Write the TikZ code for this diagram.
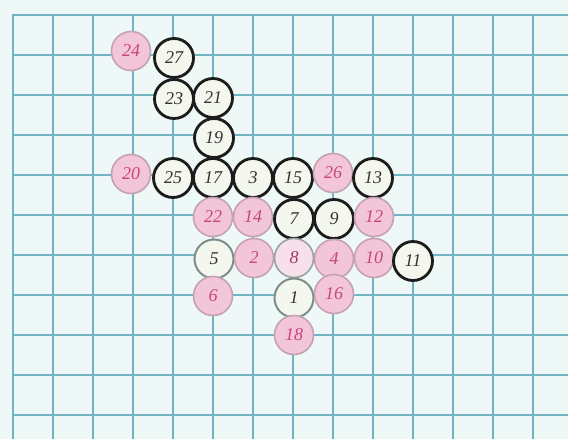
\documentclass[tikz,border=0pt]{standalone}
\usepackage{fontspec}
\setmainfont{Liberation Serif}
\definecolor{bgc}{HTML}{EDF8F7}
\definecolor{gridc}{HTML}{72B4C4}
\definecolor{pinkfill}{HTML}{F2C6D8}
\definecolor{pinkdraw}{HTML}{C4A2B2}
\definecolor{pinktext}{HTML}{C8447C}
\definecolor{stonefill}{HTML}{F3F7EE}
\definecolor{stonedraw}{HTML}{1C1C1C}
\definecolor{stonetext}{HTML}{333333}
\definecolor{fadedraw}{HTML}{7E8C8A}
\begin{document}
\begin{tikzpicture}[x=1pt,y=-1pt,
  gridline/.style={draw=gridc,line width=1.8pt},
  stone/.style={circle,minimum size=39pt,inner sep=0pt,font=\fontsize{18}{18}\selectfont\itshape},
  blackstone/.style={stone,fill=stonefill,draw=stonedraw,line width=2.8pt,text=stonetext},
  fadedstone/.style={stone,fill=stonefill,draw=fadedraw,line width=2pt,text=stonetext},
  pinkstone/.style={stone,fill=pinkfill,draw=pinkdraw,line width=1.6pt,text=pinktext},
  lightpinkstone/.style={stone,fill=pinkfill!55,draw=fadedraw!80,line width=1.6pt,text=pinktext!80!black}]
\fill[bgc] (0,0) rectangle (568,439);
\useasboundingbox (0,0) rectangle (568,439);
\foreach \x in {13,53,...,533} \draw[gridline] (\x,14) -- (\x,439);
\foreach \y in {15,55,...,415} \draw[gridline] (12,\y) -- (568,\y);
% stones
\node[pinkstone]  (n24) at (131,51)  {24};
\node[blackstone] (n27) at (174,58)  {27};
\node[blackstone] (n23) at (174,99)  {23};
\node[blackstone] (n21) at (213,98)  {21};
\node[blackstone] (n19) at (214,138) {19};
\node[pinkstone]  (n20) at (131,174) {20};
\node[blackstone] (n25) at (173,178) {25};
\node[blackstone] (n17) at (213,178) {17};
\node[blackstone] (n3)  at (253,178) {3};
\node[blackstone] (n15) at (293,178) {15};
\node[pinkstone]  (n26) at (333,173) {26};
\node[blackstone] (n13) at (373,178) {13};
\node[pinkstone]  (n22) at (213,217) {22};
\node[pinkstone]  (n14) at (253,217) {14};
\node[blackstone] (n7)  at (294,219) {7};
\node[blackstone] (n9)  at (334,219) {9};
\node[pinkstone]  (n12) at (374,217) {12};
\node[fadedstone] (n5)  at (214,259) {5};
\node[pinkstone]  (n2)  at (254,258) {2};
\node[lightpinkstone] (n8) at (294,258) {8};
\node[pinkstone]  (n4)  at (334,259) {4};
\node[pinkstone]  (n10) at (374,258) {10};
\node[blackstone] (n11) at (413,261) {11};
\node[pinkstone]  (n6)  at (213,296) {6};
\node[fadedstone] (n1)  at (294,298) {1};
\node[pinkstone]  (n16) at (334,294) {16};
\node[pinkstone]  (n18) at (294,335) {18};
\end{tikzpicture}
\end{document}
